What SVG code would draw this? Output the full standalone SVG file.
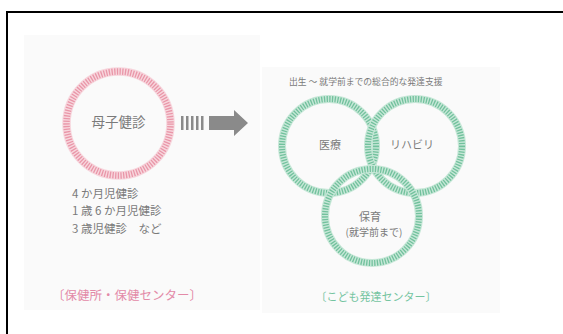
<svg xmlns="http://www.w3.org/2000/svg" width="563" height="334" viewBox="0 0 563 334">
<style>
.t{font-family:"Noto Sans CJK JP","Liberation Sans",sans-serif;fill:#7a7a7a}
.pk-base{fill:none;stroke:#f7d6dd;stroke-width:8.5}
.pk-tick{fill:none;stroke:#e996a8;stroke-width:6.5;stroke-dasharray:1.3 1.4}
.gr-base{fill:none;stroke:#c6e7d7;stroke-width:8}
.gr-tick{fill:none;stroke:#72c19d;stroke-width:6;stroke-dasharray:1.3 1.4}
</style>
<rect x="0" y="0" width="563" height="334" fill="#ffffff"/>
<rect x="7" y="12" width="600" height="400" fill="none" stroke="#000" stroke-width="2"/>
<rect x="24" y="35" width="236" height="275" fill="#fafafa"/>
<rect x="262" y="67" width="238" height="246" fill="#fafafa"/>

<g id="boshi">
<circle cx="118.5" cy="123.5" r="52" class="pk-base"/>
<circle cx="118.5" cy="123.5" r="52" class="pk-tick"/>
<text class="t" x="118.5" y="127" font-size="13.5" text-anchor="middle">母子健診</text>
</g>

<g id="list">
<text class="t" x="72" y="198" font-size="11.5">4 か月児健診</text>
<text class="t" x="72" y="215" font-size="11.5">1 歳 6 か月児健診</text>
<text class="t" x="72" y="233" font-size="11.5">3 歳児健診　など</text>
</g>

<g id="label-left">
<text x="52" y="300" font-size="12.5" class="t" style="fill:#e38aa8">〔保健所・保健センター〕</text>
</g>

<g id="connectors">
<g fill="#8a8a8a">
<rect x="181" y="116" width="2.5" height="14"/>
<rect x="186" y="116" width="2.5" height="14"/>
<rect x="191" y="116" width="2.5" height="14"/>
<rect x="196" y="116" width="2.5" height="14"/>
<rect x="201" y="116" width="2.5" height="14"/>
<path d="M209 116 H234 V110 L248 123 L234 136 V130 H209 Z"/>
</g>
</g>

<g id="title-right">
<text class="t" x="289" y="85" font-size="8.8">出生 ～ 就学前までの総合的な発達支援</text>
</g>

<g id="iryo">
<circle cx="329" cy="146" r="47" class="gr-base"/>
<circle cx="329" cy="146" r="47" class="gr-tick"/>
</g>
<g id="rehab">
<circle cx="415" cy="146" r="47" class="gr-base"/>
<circle cx="415" cy="146" r="47" class="gr-tick"/>
</g>
<g id="hoiku">
<circle cx="372" cy="216" r="47" class="gr-base"/>
<circle cx="372" cy="216" r="47" class="gr-tick"/>
</g>
<text class="t" x="330" y="149" font-size="11" text-anchor="middle">医療</text>
<text class="t" x="412" y="149" font-size="11" text-anchor="middle">リハビリ</text>
<text class="t" x="370" y="221" font-size="11" text-anchor="middle">保育</text>
<text class="t" x="374" y="236" font-size="10" text-anchor="middle">(就学前まで)</text>

<g id="label-right">
<text x="376" y="301" font-size="11" class="t" text-anchor="middle" style="fill:#74c4a0">〔こども発達センター〕</text>
</g>
</svg>
